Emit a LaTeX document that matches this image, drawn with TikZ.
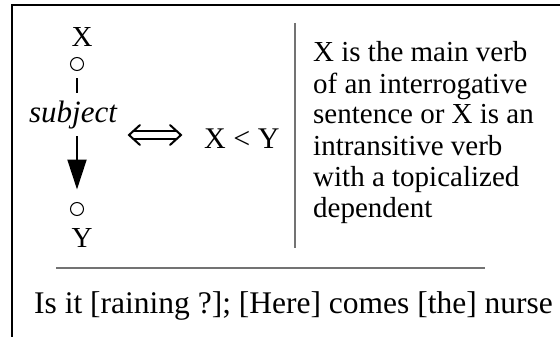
\documentclass[tikz,border=0pt]{standalone}
\usepackage{fontspec}
\setmainfont{Liberation Serif}
\usetikzlibrary{arrows.meta}
\begin{document}
\begin{tikzpicture}[x=1pt,y=1pt,
  lbl/.style={inner sep=0pt,font=\fontsize{29}{31}\selectfont},
  rtxt/.style={inner sep=0pt,anchor=base west,font=\fontsize{29}{31}\selectfont},
  vnode/.style={circle,draw,line width=1pt,minimum size=13pt,inner sep=0pt},
  rule/.style={draw=gray!90!black,line width=1.3pt},
  frame/.style={draw=black,line width=2.5pt},
  equiv/.style={draw=black,line width=2pt,line cap=round,line join=miter}]
\useasboundingbox (0,0) rectangle (560,-337);
% frame
\draw[frame] (12,-337) -- (12,-5) -- (560,-5);
% left tree
\node[lbl,anchor=base] (X) at (82,-47) {X};
\node[vnode] (cx) at (77,-64) {};
\node[vnode] (cy) at (77,-209) {};
\node[lbl,anchor=base] (Y) at (82,-247) {Y};
\draw[line width=2pt,shorten <=7.5pt,shorten >=12.5pt,-{Triangle[length=30pt,width=19pt]}] (cx) -- (cy);
\node[inner xsep=0pt,inner ysep=7pt,fill=white,anchor=base,font=\fontsize{31}{33}\selectfont\itshape] (subj) at (73,-122) {subject};
% equivalence symbol
\draw[equiv] (140,-125) -- (129,-135) -- (140,-145);
\draw[equiv] (170,-125) -- (181,-135) -- (170,-145);
\draw[equiv] (134,-131) -- (176,-131);
\draw[equiv] (134,-139) -- (176,-139);
\node[lbl,anchor=base west,font=\fontsize{30}{32}\selectfont] (xy) at (204,-148) {X < Y};
% vertical rule
\draw[rule] (295,-23) -- (295,-248);
% right text
\node[rtxt] (r1) at (313,-62) {X is the main verb};
\node[rtxt] (r2) at (313,-93) {of an interrogative};
\node[rtxt] (r3) at (313,-124) {sentence or X is an};
\node[rtxt] (r4) at (313,-155) {intransitive verb};
\node[rtxt] (r5) at (313,-186) {with a topicalized};
\node[rtxt] (r6) at (313,-217) {dependent};
% horizontal rule
\draw[rule] (56,-268) -- (485,-268);
% example
\node[inner sep=0pt,anchor=base west,font=\fontsize{31.5}{33}\selectfont] (ex) at (34,-313) {Is it [raining ?]; [Here] comes [the] nurse};
\end{tikzpicture}
\end{document}
